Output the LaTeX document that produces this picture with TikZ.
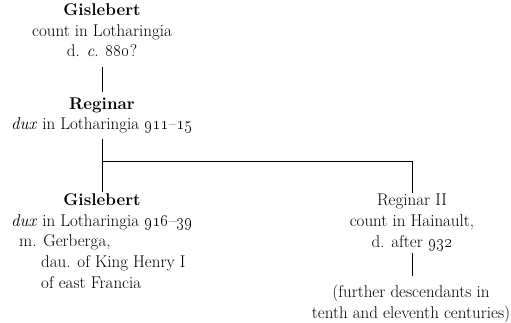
\documentclass[tikz,border=0pt]{standalone}
\usetikzlibrary{calc}
\begin{document}
\begin{tikzpicture}[x=1pt,y=-1pt,
  txt/.style={inner xsep=0pt, inner ysep=5pt, font=\fontsize{17}{20.7}\selectfont, anchor=base},
  ctr/.style={txt, align=center},
  lft/.style={txt, align=left, anchor=base west},
  link/.style={line width=0.9pt, draw=black}]
\useasboundingbox (0,0) rectangle (511,323);
\node[ctr] (g1) at (102,57) {\textbf{Gislebert}\\count in Lotharingia\\d. \textit{c}. \oldstylenums{880}?};
\node[ctr] (r1) at (102,130) {\textbf{Reginar}\\\textit{dux} in Lotharingia \oldstylenums{911}--\oldstylenums{15}};
\node[ctr] (g2) at (102,226) {\textbf{Gislebert}\\\textit{dux} in Lotharingia \oldstylenums{916}--\oldstylenums{39}};
\node[lft] (g2m) at (19,288) {m. Gerberga,\\\hspace*{22pt}dau. of King Henry I\\\hspace*{22pt}of east Francia};
\node[ctr] (rg) at (412,247) {Reginar II\\count in Hainault,\\d. after \oldstylenums{932}};
\node[ctr] (fd) at (411,318) {(further descendants in\\tenth and eleventh centuries)};
\coordinate (j) at (102,161);
\draw[link, shorten <=5pt] (g1.south) -- (r1.north);
\draw[link, shorten >=-4pt] (r1.south) -- (g2.north);
\draw[link, shorten >=-4pt] (j) -| (rg.north);
\draw[link, shorten <=-3pt, shorten >=3pt] (rg.south) -- (rg.south |- fd.north);
\end{tikzpicture}
\end{document}
